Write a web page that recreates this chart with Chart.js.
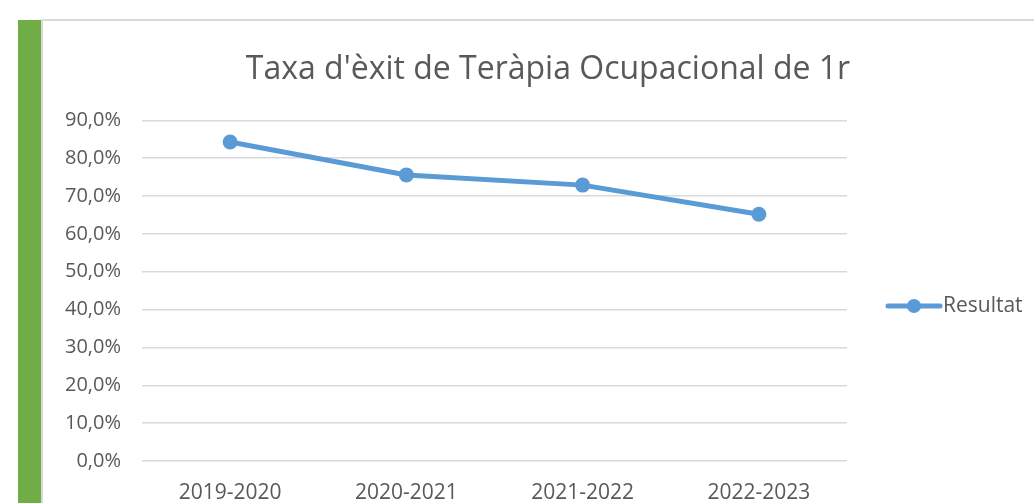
<!DOCTYPE html>
<html>
<head>
<meta charset="utf-8">
<script src="https://cdn.jsdelivr.net/npm/chart.js@4"></script>
<style>
body { margin: 0; background: #fff; }
#wrap { position: relative; width: 1034px; height: 503px; overflow: hidden; }
#green { position: absolute; left: 18px; top: 20px; width: 23px; height: 483px; background: #70ad47; }
#frame { position: absolute; left: 41px; top: 19px; width: 993px; height: 484px; border-top: 2px solid #d9d9d9; border-left: 2px solid #d9d9d9; box-sizing: border-box; }
canvas { position: absolute; left: 0; top: 0; }
</style>
</head>
<body>
<div id="wrap">
  <div id="green"></div>
  <div id="frame"></div>
  <canvas id="myChart" width="1034" height="503"></canvas>
</div>
<script>
// cursos i taxa d'èxit (%)
const cursos = ['2019-2020', '2020-2021', '2021-2022', '2022-2023'];
const resultat = [84.3, 75.6, 72.9, 65.2];
const yMin = 0, yMax = 90, yStep = 10;
const titol = "Taxa d'èxit de Teràpia Ocupacional de 1r";

const grey = '#595959';
const blau = '#5b9bd5';
const font = 'Open Sans';

// llegenda: línia amb punt, com a l'Excel
const legendPlugin = {
    id: 'lineLegend',
    afterDraw: function (chart) {
        const ctx = chart.ctx;
        const ds = chart.data.datasets[0];
        const x0 = chart.chartArea.right + 41;
        const y = 306;
        ctx.save();
        ctx.strokeStyle = ds.borderColor;
        ctx.lineWidth = 5;
        ctx.lineCap = 'round';
        ctx.beginPath();
        ctx.moveTo(x0, y);
        ctx.lineTo(x0 + 52, y);
        ctx.stroke();
        ctx.fillStyle = ds.borderColor;
        ctx.beginPath();
        ctx.arc(x0 + 26, y, 7, 0, Math.PI * 2);
        ctx.fill();
        ctx.fillStyle = grey;
        ctx.font = '21px "' + font + '"';
        ctx.textBaseline = 'middle';
        ctx.fillText(ds.label, x0 + 55, y);
        ctx.restore();
    }
};

var ctx = document.getElementById('myChart').getContext('2d');
var myChart = new Chart(ctx, {
    type: 'line',
    data: {
        labels: cursos,
        datasets: [{
            label: 'Resultat',
            data: resultat,
            borderColor: blau,
            backgroundColor: blau,
            borderWidth: 5,
            pointRadius: 7.5,
            pointHoverRadius: 7.5,
            pointBorderWidth: 0,
            tension: 0,
        }]
    },
    options: {
        responsive: false,
        animation: false,
        layout: { padding: { left: 62, right: 0, top: 20, bottom: 0 } },
        plugins: {
            legend: { display: false },
            tooltip: { enabled: false },
            title: {
                display: true,
                text: titol,
                color: grey,
                font: { family: font, size: 32, weight: 'normal', lineHeight: 1.2 },
                padding: { top: 31, bottom: 31 },
            },
        },
        scales: {
            x: {
                offset: true,
                grid: { display: false, drawTicks: false },
                border: { display: false },
                ticks: { color: grey, padding: 19, font: { family: font, size: 21 } },
                afterFit: function (s) { s.height = 42; },
            },
            y: {
                min: yMin,
                max: yMax,
                grid: { color: '#d9d9d9', lineWidth: 1.5, drawTicks: false },
                border: { display: false },
                ticks: {
                    stepSize: yStep,
                    color: grey,
                    padding: 21,
                    font: { family: font, size: 20 },
                    callback: function (v) { return v.toFixed(1).replace('.', ',') + '%'; },
                },
                afterFit: function (s) { s.width = 80; },
            },
            yr: {
                position: 'right',
                display: true,
                grid: { display: false, drawTicks: false },
                border: { display: false },
                ticks: { display: false },
                afterFit: function (s) { s.width = 187; },
            },
        },
    },
    plugins: [legendPlugin],
});
</script>
</body>
</html>
